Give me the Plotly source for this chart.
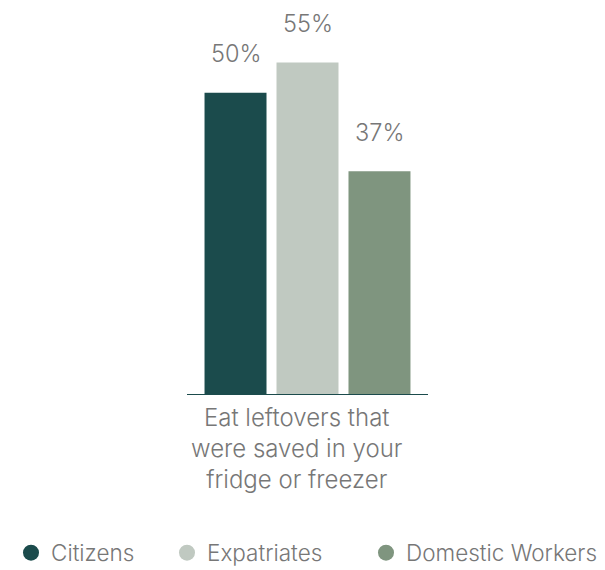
import plotly.graph_objects as go

# Survey item and share of respondents per group
category = "Eat leftovers that<br>were saved in your<br>fridge or freezer"
groups = ["Citizens", "Expatriates", "Domestic Workers"]
values = [50, 55, 37]
colors = ["#1b4b4c", "#c0c9c1", "#7f957f"]
legend_widths = [111, 154, 196]

FONT = "Inter, Lato, sans-serif"
GREY = "#777777"
AXIS = "#1b4b4c"

# pixel geometry: one category unit spans 241 px, group centred at x=307.5 px
W, H = 605, 570
UNIT = 241
CENTER = 307.5

fig = go.Figure()

for name, val, col, lw in zip(groups, values, colors, legend_widths):
    fig.add_trace(go.Bar(
        x=[category], y=[val], name=name,
        marker=dict(color=col, line=dict(width=0)),
        showlegend=False,
        hoverinfo="skip",
    ))
    # circular legend swatch
    fig.add_trace(go.Scatter(
        x=[None], y=[None], mode="markers", name=name,
        marker=dict(color=col, size=18, symbol="circle"),
        showlegend=True, legendwidth=lw,
    ))

# value labels above each bar (offsets follow the grouped bar slots)
n = len(groups)
for i, val in enumerate(values):
    fig.add_annotation(
        x=category, y=val, xref="x", yref="y",
        text=f"{val}%", showarrow=False,
        xshift=(i - (n - 1) / 2) * 72,
        yanchor="middle", yshift=39,
        font=dict(family=FONT, size=23.5, color=GREY, weight=300),
    )

# category label under the group
fig.add_annotation(
    x=category, y=0, xref="x", yref="y",
    text=category, showarrow=False,
    xshift=-11, yanchor="top", yshift=-6,
    align="center",
    font=dict(family=FONT, size=24, color=GREY, weight=300),
)

# baseline under the bar group
fig.add_shape(
    type="line", xref="x", yref="y",
    x0=-0.5, x1=0.5, y0=0, y1=0,
    line=dict(color=AXIS, width=2),
)

fig.update_layout(
    width=W, height=H,
    margin=dict(l=0, r=0, t=2, b=175, autoexpand=False),
    paper_bgcolor="white", plot_bgcolor="white",
    barmode="group", bargap=0.104, bargroupgap=0.139,
    font=dict(family=FONT, color=GREY),
    showlegend=True,
    legend=dict(
        orientation="h",
        x=11 / W, xref="container", xanchor="left",
        y=17 / H, yref="container", yanchor="middle",
        font=dict(family=FONT, size=22.5, color=GREY, weight=300),
        itemsizing="trace",
    ),
    xaxis=dict(
        range=[-CENTER / UNIT, (W - CENTER) / UNIT],
        showline=False, showgrid=False, zeroline=False, ticks="",
        showticklabels=False,
        fixedrange=True,
    ),
    yaxis=dict(
        range=[0, 65], visible=False, showgrid=False, zeroline=False,
        fixedrange=True,
    ),
)

fig.write_html("out.html")
